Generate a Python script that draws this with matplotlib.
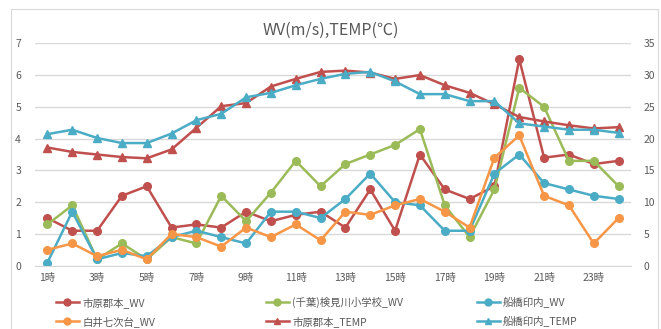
import numpy as np
import matplotlib.pyplot as plt
from matplotlib.lines import Line2D
from matplotlib.patches import Rectangle

plt.rcParams['font.family'] = ['Noto Sans CJK JP', 'DejaVu Sans']

#------------------------------------------------------------------------------
# Data
#------------------------------------------------------------------------------
hours = list(range(1, 25))
tick_hours = [1, 3, 5, 7, 9, 11, 13, 15, 17, 19, 21, 23]
tick_labels = [str(h) + '時' for h in tick_hours]

ichihara_wv = [1.5, 1.1, 1.1, 2.2, 2.5, 1.2, 1.3, 1.2, 1.7, 1.4, 1.6, 1.7,
               1.2, 2.4, 1.1, 3.5, 2.4, 2.1, 2.5, 6.5, 3.4, 3.5, 3.2, 3.3]
kemigawa_wv = [1.3, 1.9, 0.2, 0.7, 0.2, 0.9, 0.7, 2.2, 1.4, 2.3, 3.3, 2.5,
               3.2, 3.5, 3.8, 4.3, 1.9, 0.9, 2.4, 5.6, 5.0, 3.3, 3.3, 2.5]
funabashi_wv = [0.1, 1.7, 0.2, 0.4, 0.3, 0.9, 1.1, 0.9, 0.7, 1.7, 1.7, 1.5,
                2.1, 2.9, 2.0, 1.9, 1.1, 1.1, 2.9, 3.5, 2.6, 2.4, 2.2, 2.1]
shiroi_wv = [0.5, 0.7, 0.3, 0.5, 0.2, 1.0, 0.9, 0.6, 1.2, 0.9, 1.3, 0.8,
             1.7, 1.6, 1.9, 2.1, 1.7, 1.2, 3.4, 4.1, 2.2, 1.9, 0.7, 1.5]
ichihara_temp = [18.6, 17.9, 17.5, 17.1, 16.9, 18.3, 21.7, 25.1, 25.6, 28.2, 29.4, 30.5,
                 30.7, 30.4, 29.4, 30.0, 28.4, 27.2, 25.4, 23.4, 22.7, 22.1, 21.6, 21.8]
funabashi_temp = [20.7, 21.4, 20.1, 19.3, 19.3, 20.8, 22.9, 23.9, 26.5, 27.2, 28.4, 29.4,
                  30.2, 30.5, 29.0, 27.0, 27.0, 25.9, 25.9, 22.4, 21.9, 21.4, 21.4, 20.9]

wv_series = [('市原郡本_WV', ichihara_wv, '#C0504D'),
             ('(千葉)検見川小学校_WV', kemigawa_wv, '#9BBB59'),
             ('船橋印内_WV', funabashi_wv, '#4BACC6'),
             ('白井七次台_WV', shiroi_wv, '#F79646')]
temp_series = [('市原郡本_TEMP', ichihara_temp, '#C0504D'),
               ('船橋印内_TEMP', funabashi_temp, '#4BACC6')]

txt = '#595959'
grid = '#D9D9D9'

#------------------------------------------------------------------------------
# Plot
#------------------------------------------------------------------------------
fig = plt.figure(figsize=(6.61, 3.29), dpi=100)
fig.patches.append(Rectangle((11/661, -0.1), 647/661, 1.1 - 9/329, transform=fig.transFigure,
                             fill=False, edgecolor=grid, linewidth=0.8))

ax = fig.add_axes([35/661, (329-265.7)/329, 596/661, (265.7-43.3)/329])
ax2 = ax.twinx()

handles = {}
for name, vals, col in wv_series:
    h, = ax.plot(hours, vals, color=col, lw=1.8, marker='o', ms=5.5, label=name)
    handles[name] = h
for name, vals, col in temp_series:
    h, = ax2.plot(hours, vals, color=col, lw=1.8, marker='^', ms=6, label=name)
    handles[name] = h

ax.set_xlim(0.5, 24.5)
ax.set_ylim(0, 7)
ax2.set_ylim(0, 35)
ax.set_yticks(range(0, 8))
ax2.set_yticks(range(0, 36, 5))
ax.set_xticks(tick_hours)
ax.set_xticklabels(tick_labels)
ax.grid(axis='y', color=grid, lw=1)
ax.set_axisbelow(True)
for a in (ax, ax2):
    for s in a.spines.values():
        s.set_visible(False)
    a.tick_params(length=0, labelsize=7.5, labelcolor=txt)
ax.spines['bottom'].set_visible(True)
ax.spines['bottom'].set_color(grid)
ax.tick_params(axis='y', pad=10)
ax.tick_params(axis='x', pad=5)
ax2.tick_params(axis='y', pad=9)

fig.text(0.5, 1 - 30/329, 'WV(m/s),TEMP(℃)', ha='center', va='center', fontsize=11.5, color=txt)

# legend, three columns placed by hand
cols = [(['市原郡本_WV', '白井七次台_WV'], 56),
        (['(千葉)検見川小学校_WV', '市原郡本_TEMP'], 266),
        (['船橋印内_WV', '船橋印内_TEMP'], 477)]
for names, x0 in cols:
    hs = [Line2D([], [], color=handles[n].get_color(), lw=1.8,
                 marker=handles[n].get_marker(), ms=5) for n in names]
    leg = fig.legend(hs, names, loc='upper left', bbox_to_anchor=(x0/661, 1 - 297/329),
                     frameon=False, fontsize=7.5, handlelength=2.2, handletextpad=0.3,
                     labelspacing=0.75, borderaxespad=0, borderpad=0)
    for t in leg.get_texts():
        t.set_color(txt)

plt.savefig('out.png', dpi=100)
